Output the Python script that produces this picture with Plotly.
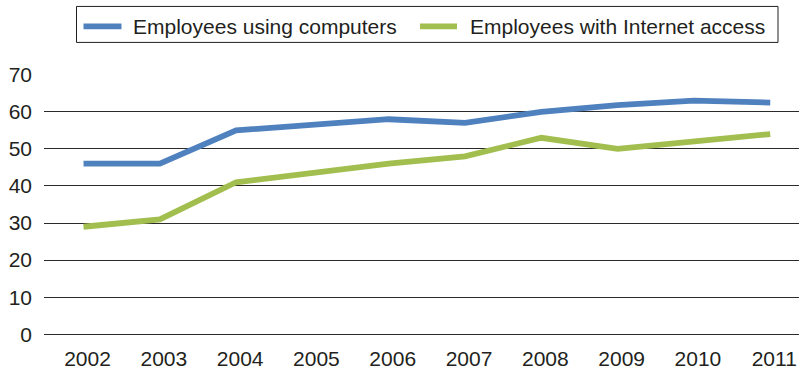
import plotly.graph_objects as go

# Share of employees (%) by year
years = ["2002", "2003", "2004", "2005", "2006", "2007", "2008", "2009", "2010", "2011"]
using_computers = [46, 46, 55, 56.5, 58, 57, 60, 61.8, 63, 62.5]
internet_access = [29, 31, 41, 43.5, 46, 48, 53, 50, 52, 54]
y_ticks = [0, 10, 20, 30, 40, 50, 60, 70]

series_names = ["Employees using computers", "Employees with Internet access"]
series_colors = ["#4F81BE", "#A1BE4E"]

W, H = 799, 373
FONT = "Liberation Sans, Arial, Helvetica, sans-serif"
TEXT = "#231f20"
GRID = "#2a2a2a"

# plot area geometry (pixels)
left, right = 44, 0
top, bottom = 73.6, 38.3
plot_w = W - left - right
plot_h = H - top - bottom


def px_x(p):
    return (p - left) / plot_w


def px_y(p):
    return (H - bottom - p) / plot_h


idx = list(range(len(years)))

fig = go.Figure()
for name, vals, col in zip(series_names, [using_computers, internet_access], series_colors):
    fig.add_trace(go.Scatter(
        x=idx, y=vals, mode="lines", name=name,
        line=dict(color=col, width=5.8),
        showlegend=False,
    ))

# boxed legend across the top
shapes = [dict(
    type="rect", xref="paper", yref="paper",
    x0=px_x(76.5), x1=px_x(778), y0=px_y(42), y1=px_y(6),
    line=dict(color=TEXT, width=1), fillcolor="white", layer="above",
)]
annotations = []
legend_items = [(83.5, 121.5, 131), (420, 457, 468)]
for (lx0, lx1, tx), name, col in zip(legend_items, series_names, series_colors):
    shapes.append(dict(
        type="line", xref="paper", yref="paper",
        x0=px_x(lx0), x1=px_x(lx1), y0=px_y(26), y1=px_y(26),
        line=dict(color=col, width=5.8), layer="above",
    ))
    annotations.append(dict(
        xref="paper", yref="paper", x=px_x(tx), y=px_y(26.5),
        xanchor="left", yanchor="middle", showarrow=False,
        text=name, font=dict(family=FONT, size=21, color=TEXT),
    ))

fig.update_layout(
    width=W, height=H,
    margin=dict(l=left, r=right, t=top, b=bottom, pad=0),
    paper_bgcolor="white", plot_bgcolor="white",
    font=dict(family=FONT, size=21, color=TEXT),
    showlegend=False,
    shapes=shapes,
    annotations=annotations,
    xaxis=dict(
        range=[-0.518, 9.377],
        tickmode="array", tickvals=idx, ticktext=years,
        showgrid=False, zeroline=False, showline=False,
        ticks="", ticklabelstandoff=9, ticklabelshift=4,
        tickfont=dict(family=FONT, size=21, color=TEXT),
        fixedrange=True,
    ),
    yaxis=dict(
        range=[-0.2, 70.2],
        tickmode="array", tickvals=y_ticks,
        showgrid=True, gridcolor=GRID, gridwidth=1.2,
        zeroline=True, zerolinecolor=GRID, zerolinewidth=1.2,
        showline=False,
        ticks="", ticklabelstandoff=11,
        tickfont=dict(family=FONT, size=21, color=TEXT),
        fixedrange=True,
    ),
)

fig.write_html("out.html", config={"displayModeBar": False})
